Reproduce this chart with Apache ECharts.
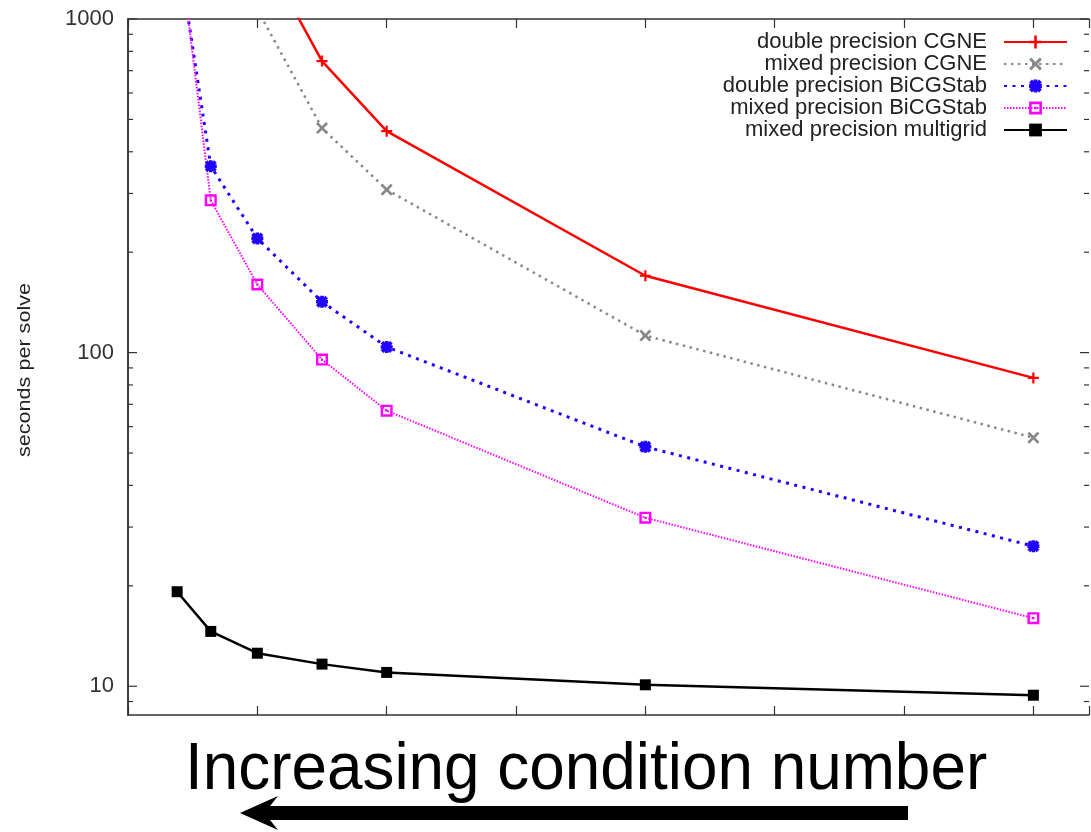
<!DOCTYPE html>
<html>
<head>
<meta charset="utf-8">
<script src="https://cdn.jsdelivr.net/npm/echarts@6/dist/echarts.min.js"></script>
<style>
  html, body { margin: 0; padding: 0; background: #fff; }
  #myChart { width: 1091px; height: 832px; }
</style>
</head>
<body>
<div id="myChart"></div>
<script>
// x positions (axis has no labels, one unit per tick)
var xValues = [0.38, 0.64, 1.0, 1.5, 2.0, 4.0, 7.0]
var xMin = 0
var xMax = 7.43
var yMin = 8.2
var yMax = 1000

var doubleCgne = [null, null, 1690, 748, 461, 170, 84]
var mixedCgne = [null, null, 1068, 471, 308, 112.5, 55.6]
var doubleBicg = [1660, 362, 220, 142, 104, 52.2, 26.3]
var mixedBicg = [1860, 286, 160, 95.3, 67, 32, 16]
var mixedMg = [19.2, 14.6, 12.56, 11.65, 11.0, 10.1, 9.4]

var yTickLabels = [10, 100, 1000]
var yMinorTicks = [9, 20, 30, 40, 50, 60, 70, 80, 90, 200, 300, 400, 500, 600, 700, 800, 900]

var names = ['double precision CGNE', 'mixed precision CGNE', 'double precision BiCGStab',
  'mixed precision BiCGStab', 'mixed precision multigrid']

function pairs (ys) {
  var out = []
  ys.forEach(function (y, i) {
    if (y !== null) out.push([xValues[i], y])
  })
  return out
}

var plusPath = 'path://M4,0H6V4H10V6H6V10H4V6H0V4H4Z'
var crossPath = 'path://M0,1.6L1.6,0L5,3.4L8.4,0L10,1.6L6.6,5L10,8.4L8.4,10L5,6.6L1.6,10L0,8.4L3.4,5Z'
var starPath = 'path://M3.5,0H6.5V3.5H10V6.5H6.5V10H3.5V6.5H0V3.5H3.5Z M0,2.2L2.2,0L5,2.8L7.8,0L10,2.2L7.2,5L10,7.8L7.8,10L5,7.2L2.2,10L0,7.8L2.8,5Z'
var boxPath = 'path://M0,0H10V10H0Z M2,2V8H8V2Z M4.1,4.1H5.9V5.9H4.1Z'

var axisColor = '#333'

// y ticks on both frame sides, major and minor
var yTicks = yTickLabels.map(function (v) { return [xMin, v, 9] })
  .concat(yMinorTicks.map(function (v) { return [xMin, v, 5] }))

var myChart = echarts.init(document.getElementById('myChart'))
var options = {
  animation: false,
  grid: { left: 128, right: 2, top: 19, bottom: 117 },
  legend: {
    data: names,
    orient: 'vertical',
    right: 18,
    top: 26,
    align: 'right',
    itemWidth: 63,
    itemHeight: 16,
    itemGap: 0,
    textStyle: {
      fontFamily: 'Liberation Sans',
      fontSize: 22,
      color: '#222',
      lineHeight: 22,
      padding: [0, 12, 0, 0]
    }
  },
  xAxis: [{
    type: 'value',
    min: xMin,
    max: xMax,
    interval: 1,
    axisLine: { lineStyle: { color: axisColor, width: 1.5 } },
    axisTick: { inside: true, length: 9, lineStyle: { color: axisColor, width: 1.2 } },
    axisLabel: { show: false },
    splitLine: { show: false }
  }, {
    type: 'value',
    position: 'top',
    min: xMin,
    max: xMax,
    interval: 1,
    axisLine: { lineStyle: { color: axisColor, width: 1.5 } },
    axisTick: { inside: true, length: 9, lineStyle: { color: axisColor, width: 1.2 } },
    axisLabel: { show: false },
    splitLine: { show: false }
  }],
  yAxis: [{
    type: 'log',
    logBase: 10,
    min: yMin,
    max: yMax,
    axisLine: { show: true, lineStyle: { color: axisColor, width: 1.5 } },
    axisTick: { show: false },
    axisLabel: {
      fontFamily: 'Liberation Sans',
      fontSize: 22,
      color: '#333',
      margin: 14,
      showMinLabel: false,
      formatter: function (v) {
        for (var i = 0; i < yTickLabels.length; i++) {
          if (Math.abs(v - yTickLabels[i]) < 1e-6 * yTickLabels[i]) return String(yTickLabels[i])
        }
        return ''
      }
    },
    splitLine: { show: false }
  }, {
    type: 'log',
    logBase: 10,
    position: 'right',
    min: yMin,
    max: yMax,
    axisLine: { show: true, lineStyle: { color: axisColor, width: 1.5 } },
    axisTick: { show: false },
    axisLabel: { show: false },
    splitLine: { show: false }
  }],
  series: [{
    name: names[0],
    type: 'line',
    data: pairs(doubleCgne),
    symbol: plusPath,
    symbolSize: 11,
    color: '#ff0000',
    lineStyle: { color: '#ff0000', width: 2.5 },
    itemStyle: { color: '#ff0000' }
  }, {
    name: names[1],
    type: 'line',
    data: pairs(mixedCgne),
    symbol: crossPath,
    symbolSize: 12,
    color: '#888888',
    lineStyle: { color: '#888888', width: 2.5, type: [2.5, 4.5] },
    itemStyle: { color: '#888888' }
  }, {
    name: names[2],
    type: 'line',
    data: pairs(doubleBicg),
    symbol: starPath,
    symbolSize: 12,
    color: '#2200ff',
    lineStyle: { color: '#2200ff', width: 3, type: [3, 5.5] },
    itemStyle: { color: '#2200ff' }
  }, {
    name: names[3],
    type: 'line',
    data: pairs(mixedBicg),
    symbol: boxPath,
    symbolSize: 12,
    color: '#ff00ff',
    lineStyle: { color: '#ff00ff', width: 2, type: [1.5, 1.5] },
    itemStyle: { color: '#ff00ff' }
  }, {
    name: names[4],
    type: 'line',
    data: pairs(mixedMg),
    symbol: 'rect',
    symbolSize: 11,
    color: '#000000',
    lineStyle: { color: '#000000', width: 2.5 },
    itemStyle: { color: '#000000' }
  }, {
    type: 'custom',
    silent: true,
    clip: false,
    z: 3,
    data: yTicks,
    renderItem: function (params, api) {
      var v = api.value(1)
      var len = api.value(2)
      var l = api.coord([xMin, v])
      var r = api.coord([xMax, v])
      return {
        type: 'group',
        children: [
          { type: 'line', shape: { x1: l[0], y1: l[1], x2: l[0] + len, y2: l[1] }, style: { stroke: axisColor, lineWidth: 1.2 } },
          { type: 'line', shape: { x1: r[0], y1: r[1], x2: r[0] - len, y2: r[1] }, style: { stroke: axisColor, lineWidth: 1.2 } }
        ]
      }
    }
  }],
  graphic: [{
    type: 'text',
    x: 25,
    y: 370,
    rotation: Math.PI / 2,
    scaleX: 1.2,
    style: {
      text: 'seconds per solve',
      fontFamily: 'Liberation Sans',
      fontSize: 18,
      fill: '#222',
      align: 'center',
      verticalAlign: 'middle'
    }
  }, {
    type: 'text',
    x: 185,
    y: 737,
    scaleX: 0.953,
    style: {
      text: 'Increasing condition number',
      fontFamily: 'Liberation Sans',
      fontSize: 67,
      fill: '#000',
      align: 'left',
      verticalAlign: 'top'
    }
  }, {
    type: 'polygon',
    shape: {
      points: [[240, 813], [278, 796], [270, 806], [908, 806], [908, 820], [270, 820], [278, 830]]
    },
    style: { fill: '#000' }
  }]
}
myChart.setOption(options)
</script>
</body>
</html>
